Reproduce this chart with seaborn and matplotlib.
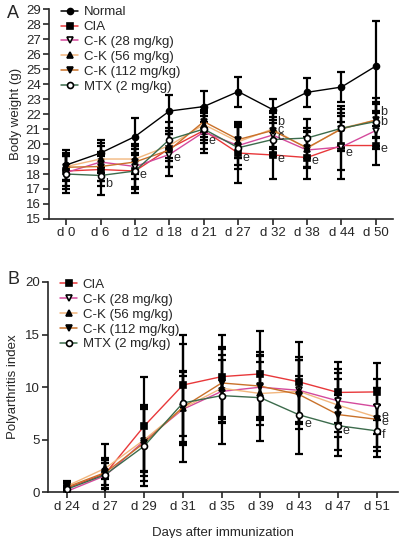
import numpy as np
import matplotlib
matplotlib.use("Agg")
import matplotlib.pyplot as plt
import seaborn as sns
from matplotlib.lines import Line2D

sns.set_style("ticks")
plt.rcParams['font.family'] = ['Liberation Sans', 'DejaVu Sans']

# ---- panel A: body weight ----
days_a = ["d 0", "d 6", "d 12", "d 18", "d 21", "d 27", "d 32", "d 38", "d 44", "d 50"]
normal_w = [18.6, 19.4, 20.5, 22.2, 22.5, 23.5, 22.3, 23.45, 23.8, 25.2]
cia_w = [18.2, 18.3, 18.2, 19.7, 20.9, 19.4, 19.27, 19.1, 19.9, 19.9]
ck28_w = [18.1, 18.8, 18.5, 19.3, 20.8, 19.9, 20.6, 19.6, 19.8, 20.9]
ck56_w = [18.5, 19.0, 19.0, 19.9, 21.3, 20.15, 21.0, 19.7, 21.05, 21.6]
ck112_w = [18.45, 18.5, 18.8, 19.6, 21.5, 20.3, 20.9, 19.75, 21.0, 21.6]
mtx_w = [18.0, 17.9, 18.2, 20.3, 21.0, 19.75, 20.3, 20.4, 21.05, 21.5]

normal_w_sd = [1.0, 0.9, 1.25, 1.1, 1.05, 1.0, 0.7, 0.95, 1.0, 3.0]
cia_w_sd = [1.0, 1.1, 1.2, 1.2, 1.2, 2.0, 1.6, 1.4, 1.6, 1.3]
ck28_w_sd = [1.1, 1.3, 1.4, 1.4, 1.4, 1.3, 1.2, 1.2, 2.1, 1.2]
ck56_w_sd = [0.9, 0.9, 1.0, 1.0, 1.0, 1.1, 1.2, 1.2, 1.3, 1.1]
ck112_w_sd = [0.9, 1.0, 1.1, 1.1, 1.0, 1.2, 1.2, 1.3, 1.1, 1.2]
mtx_w_sd = [1.3, 1.3, 1.5, 1.2, 0.9, 1.4, 1.1, 1.3, 1.5, 1.6]

# significance letters (day index, y, letter)
notes_a = [(1, 17.33, "b"), (2, 17.93, "e"), (3, 19.07, "e"), (4, 20.2, "e"),
           (5, 19.1, "e"), (6, 21.5, "b"), (6, 20.93, "c"), (6, 20.45, "c"),
           (6, 19.0, "e"), (7, 18.87, "e"), (8, 19.4, "e"),
           (9, 22.15, "b"), (9, 21.5, "b"), (9, 19.65, "e")]

# ---- panel B: polyarthritis index ----
days_b = ["d 24", "d 27", "d 29", "d 31", "d 35", "d 39", "d 43", "d 47", "d 51"]
cia_p = [0.4, 1.8, 6.3, 10.2, 11.0, 11.26, 10.5, 9.5, 9.55]
ck28_p = [0.1, 1.6, 4.9, 7.9, 9.6, 10.0, 9.7, 8.7, 8.15]
ck56_p = [0.6, 2.3, 5.0, 8.0, 9.9, 9.4, 9.6, 8.3, 7.15]
ck112_p = [0.5, 1.9, 4.7, 8.1, 10.4, 10.1, 9.3, 7.4, 6.95]
mtx_p = [0.3, 1.7, 4.4, 8.5, 9.2, 9.0, 7.37, 6.35, 5.85]

cia_p_sd = [0.7, 2.8, 4.7, 4.8, 4.0, 4.1, 3.8, 2.9, 2.7]
ck28_p_sd = [0.3, 1.2, 3.0, 3.2, 3.0, 3.0, 3.2, 3.0, 2.6]
ck56_p_sd = [0.4, 1.0, 3.0, 3.5, 3.2, 3.0, 3.0, 3.0, 2.8]
ck112_p_sd = [0.4, 1.2, 3.6, 3.3, 3.2, 3.2, 3.3, 3.4, 3.0]
mtx_p_sd = [0.3, 1.4, 3.8, 5.6, 4.6, 4.1, 3.7, 2.9, 2.5]

notes_b = [(6, 6.5, "e"), (7, 5.85, "e"), (8, 7.27, "e"), (8, 6.73, "e"), (8, 5.47, "f")]

# style per group: colour, marker, filled
styles = {
    "Normal": ("#000000", "o", True),
    "CIA": ("#e8383a", "s", True),
    "C-K (28 mg/kg)": ("#d44a9c", "v", False),
    "C-K (56 mg/kg)": ("#f2b77e", "^", True),
    "C-K (112 mg/kg)": ("#c9712a", "v", True),
    "MTX (2 mg/kg)": ("#3c6b4c", "o", False),
}


def draw(ax, days, series, notes):
    x = np.arange(len(days))
    for name, (vals, sd) in series.items():
        ax.errorbar(x, vals, yerr=sd, fmt="none", ecolor="black",
                    elinewidth=1.6, capsize=3, capthick=1.6, zorder=2)
    for name, (vals, sd) in series.items():
        col, mk, filled = styles[name]
        sns.lineplot(x=x, y=vals, ax=ax, color=col, lw=1.0, marker=mk,
                     markersize=4.3, markerfacecolor="black" if filled else "white",
                     markeredgecolor="black", markeredgewidth=1.2, zorder=3)
    for i, yv, t in notes:
        ax.text(i + 0.13, yv, t, fontsize=9, va="center", ha="left")
    ax.set_xticks(x)
    ax.set_xticklabels(days, fontsize=9.5)
    ax.tick_params(axis="both", width=1.2, length=4, labelsize=9.5, pad=2)
    sns.despine(ax=ax)
    for s in ["left", "bottom"]:
        ax.spines[s].set_linewidth(1.2)


def legend(ax, names, y0):
    handles = []
    for name in names:
        col, mk, filled = styles[name]
        handles.append(Line2D([], [], color=col, lw=1.1, marker=mk, markersize=4.3,
                              markerfacecolor="black" if filled else "white",
                              markeredgecolor="black", markeredgewidth=1.2))
    ax.legend(handles, names, loc="upper left", bbox_to_anchor=(0.02, y0),
              frameon=False, fontsize=9.5, handlelength=1.3, handletextpad=0.4,
              labelspacing=0.2, borderaxespad=0)


fig = plt.figure(figsize=(4.0, 5.38), dpi=100)

ax1 = fig.add_axes([0.1225, 0.593, 0.86, 0.39])
draw(ax1, days_a, {
    "Normal": (normal_w, normal_w_sd),
    "CIA": (cia_w, cia_w_sd),
    "C-K (28 mg/kg)": (ck28_w, ck28_w_sd),
    "C-K (56 mg/kg)": (ck56_w, ck56_w_sd),
    "C-K (112 mg/kg)": (ck112_w, ck112_w_sd),
    "MTX (2 mg/kg)": (mtx_w, mtx_w_sd),
}, notes_a)
ax1.set_xlim(-0.5, 9.5)
ax1.set_ylim(15, 29)
ax1.set_yticks(range(15, 30))
ax1.set_ylabel("Body weight (g)", fontsize=9.5, labelpad=3)
legend(ax1, list(styles.keys()), 1.04)
fig.text(0.018, 0.975, "A", fontsize=13, va="center")

ax2 = fig.add_axes([0.12, 0.0846, 0.875, 0.3915])
draw(ax2, days_b, {
    "CIA": (cia_p, cia_p_sd),
    "C-K (28 mg/kg)": (ck28_p, ck28_p_sd),
    "C-K (56 mg/kg)": (ck56_p, ck56_p_sd),
    "C-K (112 mg/kg)": (ck112_p, ck112_p_sd),
    "MTX (2 mg/kg)": (mtx_p, mtx_p_sd),
}, notes_b)
ax2.set_xlim(-0.48, 8.55)
ax2.set_ylim(0, 20)
ax2.set_yticks([0, 5, 10, 15, 20])
ax2.set_ylabel("Polyarthritis index", fontsize=9.5, labelpad=4)
ax2.set_xlabel("Days after immunization", fontsize=9.5, labelpad=10)
legend(ax2, list(styles.keys())[1:], 1.04)
fig.text(0.018, 0.48, "B", fontsize=13, va="center")

fig.savefig("out.png", dpi=100)
